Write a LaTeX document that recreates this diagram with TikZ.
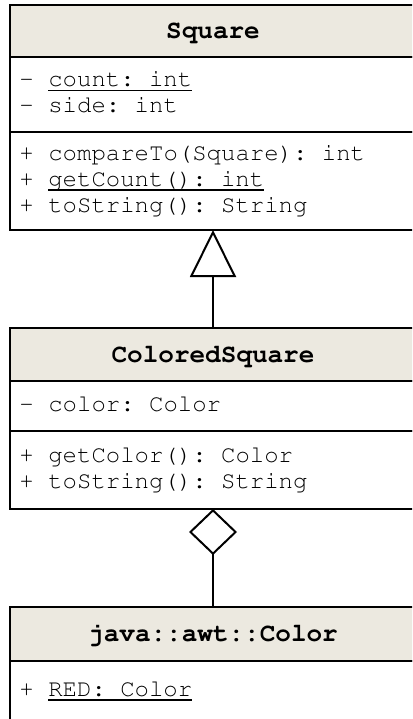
\documentclass[tikz,border=0pt]{standalone}
\usepackage[T1]{fontenc}
\usepackage{courier}
\usetikzlibrary{arrows.meta,positioning}

\definecolor{headfill}{RGB}{236,233,224}

% static members: underline at a fixed depth, through descenders
\newcommand{\umlstatic}[1]{\setbox0\hbox{#1}\rlap{\rule[-4.6pt]{\wd0}{1.4pt}}#1}

\tikzset{
  classname/.style={draw, line width=2pt, fill=headfill, outer sep=0pt,
    minimum width=407pt, text height=20pt, text depth=5pt,
    font=\ttfamily\bfseries\fontsize{26}{28}\selectfont},
  members/.style={draw, line width=2pt, outer sep=0pt, inner xsep=10pt,
    text width=387pt, align=left, font=\ttfamily\fontsize{24}{26}\selectfont,
    % keep the full monospace blank (align=left narrows it)
    execute at begin node={\spaceskip=0.6em\relax\xspaceskip=0.6em\relax}},
  inherit/.style={line width=2pt, -{Triangle[open,length=47pt,width=46pt]}},
  aggreg/.style={line width=2pt, {Diamond[open,length=46pt,width=48pt]}-}
}

\begin{document}
\begin{tikzpicture}[x=1pt,y=-1pt]
  \useasboundingbox (0,0) rectangle (412,719);
  \clip (0,0) rectangle (412,719);

  % class Square
  \node[classname, minimum height=52pt] (sqhead) at (213,31) {Square};
  \node[members, minimum height=75pt, below=0pt of sqhead] (sqattr)
    {- \umlstatic{count: int}\strut\\
     - side: int\strut};
  \node[members, minimum height=98pt, below=0pt of sqattr] (sqmeth)
    {+ compareTo(Square): int\strut\\
     + \umlstatic{getCount(): int}\strut\\
     + toString(): String\strut};

  % class ColoredSquare
  \node[classname, minimum height=53pt, below=98pt of sqmeth] (cshead) {ColoredSquare};
  \node[members, minimum height=50pt, below=0pt of cshead] (csattr)
    {- color: Color\strut};
  \node[members, minimum height=78pt, below=0pt of csattr] (csmeth)
    {+ getColor(): Color\strut\\
     + toString(): String\strut};

  % class java::awt::Color
  \node[classname, minimum height=54pt, below=98pt of csmeth] (colhead) {java::awt::Color};
  \node[members, minimum height=60pt, below=0pt of colhead] (colattr)
    {+ \umlstatic{RED: Color}\strut};

  % relations
  \draw[inherit] (cshead.north) -- (sqmeth.south);
  \draw[aggreg] (csmeth.south) -- (colhead.north);
\end{tikzpicture}
\end{document}
